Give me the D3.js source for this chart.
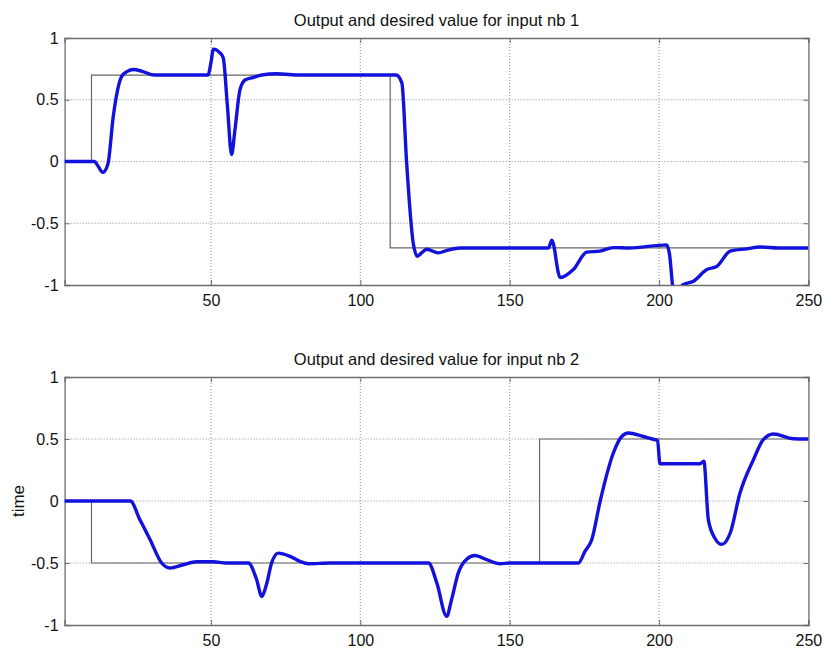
<!DOCTYPE html>
<html>
<head>
<meta charset="utf-8">
<script src="https://cdn.jsdelivr.net/npm/d3@7"></script>
<style>
  body { margin: 0; background: #fff; }
  text { font-family: "Liberation Sans", Arial, sans-serif; fill: #111; }
</style>
</head>
<body>
<div id="chart"></div>
<script>
var svgWidth = 825;
var svgHeight = 648;

// x ticks shared by both panels
var xTicks = [50, 100, 150, 200, 250];
var yTicks = [-1, -0.5, 0, 0.5, 1];

// desired value, input 1 (step signal)
var ref1Time = [1, 10, 110, 250];
var ref1Value = [0, 0.7, -0.7, -0.7];

// network output, input 1
var out1Time = [1, 11, 12, 13.8, 15.5, 17.3, 20.1, 22, 24, 27, 31, 40, 49, 50, 50.8, 53, 54.1, 55.5, 56.9, 58, 59.7, 61.4, 64, 67, 72, 80, 112, 113.9, 115.5, 117.7, 119.1, 120.5, 122.2, 126.1, 129, 133.4, 163, 164.1, 166.9, 171.3, 175.8, 180.2, 184.7, 190, 202.6, 203.5, 204.8, 206, 207.9, 211.5, 216, 219.3, 223.8, 229.3, 233.8, 240, 250];
var out1Value = [0, 0, -0.03, -0.087, -0.02, 0.367, 0.69, 0.73, 0.745, 0.73, 0.70, 0.70, 0.70, 0.80, 0.91, 0.88, 0.84, 0.45, 0.057, 0.25, 0.58, 0.66, 0.68, 0.70, 0.71, 0.70, 0.70, 0.637, -0.01, -0.66, -0.767, -0.74, -0.71, -0.74, -0.72, -0.70, -0.70, -0.637, -0.94, -0.875, -0.734, -0.726, -0.697, -0.70, -0.675, -0.75, -1.05, -1.1, -1.0, -0.97, -0.875, -0.85, -0.726, -0.707, -0.692, -0.70, -0.70];

// desired value, input 2
var ref2Time = [1, 10, 160, 250];
var ref2Value = [0, -0.5, 0.5, 0.5];

// network output, input 2
var out2Time = [1, 23, 26.2, 29.6, 33.5, 36.3, 40.7, 45.2, 50.8, 55, 62.5, 65.3, 67, 68.5, 70.3, 72.5, 76.5, 79.8, 82.6, 90, 122.8, 125.6, 128.9, 130.5, 132.8, 135.6, 138.4, 142.3, 146.8, 150, 173, 175.2, 177.5, 180.3, 184.7, 187.5, 189.7, 194.7, 198.7, 199.5, 200.3, 213.7, 215, 216.5, 218.7, 221, 223.8, 227.1, 231.6, 234.9, 238.3, 245, 250];
var out2Value = [0, 0, -0.15, -0.31, -0.5, -0.54, -0.514, -0.49, -0.49, -0.5, -0.5, -0.635, -0.77, -0.68, -0.5, -0.42, -0.447, -0.487, -0.506, -0.5, -0.5, -0.66, -0.93, -0.8, -0.58, -0.47, -0.44, -0.473, -0.506, -0.5, -0.5, -0.406, -0.31, 0, 0.387, 0.52, 0.548, 0.52, 0.494, 0.49, 0.30, 0.30, 0.32, -0.15, -0.3, -0.35, -0.26, 0.064, 0.333, 0.494, 0.54, 0.502, 0.50];

var margin = { left: 64.6, right: 16.6 };
var width = svgWidth - margin.left - margin.right;

var svg = d3.select("#chart")
  .append("svg")
  .attr("width", svgWidth)
  .attr("height", svgHeight);

var x = d3.scaleLinear().domain([1, 250]).range([0, width]);

function zip(ts, vs) {
  return ts.map(function(t, i) { return [t, vs[i]]; });
}

function drawPanel(id, top, height, refT, refV, outT, outV, title, ylabel) {
  var y = d3.scaleLinear().domain([-1, 1]).range([height, 0]);

  var g = svg.append("g")
    .attr("transform", `translate(${margin.left}, ${top})`);

  // clip so the output does not leave the box
  svg.append("clipPath").attr("id", id)
    .append("rect").attr("width", width).attr("height", height);

  // dotted grid
  g.append("g").selectAll("line")
    .data([50, 100, 150, 200])
    .enter().append("line")
    .attr("x1", d => x(d)).attr("x2", d => x(d))
    .attr("y1", 0).attr("y2", height)
    .attr("stroke", "#8c8c8c")
    .attr("stroke-dasharray", "1,2");

  g.append("g").selectAll("line")
    .data([-0.5, 0, 0.5])
    .enter().append("line")
    .attr("x1", 0).attr("x2", width)
    .attr("y1", d => y(d)).attr("y2", d => y(d))
    .attr("stroke", "#8c8c8c")
    .attr("stroke-dasharray", "1,2");

  // axes, ticks pointing inwards like matlab
  var bottom = g.append("g")
    .attr("transform", `translate(0, ${height})`)
    .call(d3.axisBottom(x).tickValues(xTicks).tickSize(-5).tickPadding(10));
  var topAx = g.append("g")
    .call(d3.axisTop(x).tickValues(xTicks).tickSize(-5).tickFormat(""));
  var left = g.append("g")
    .call(d3.axisLeft(y).tickValues(yTicks).tickSize(-5).tickPadding(6)
      .tickFormat(d => String(d)));
  var right = g.append("g")
    .attr("transform", `translate(${width}, 0)`)
    .call(d3.axisRight(y).tickValues(yTicks).tickSize(-5).tickFormat(""));

  [bottom, topAx, left, right].forEach(function(a) {
    a.selectAll("path").attr("stroke", "#6e6e6e").attr("stroke-width", 1.3);
    a.selectAll("line").attr("stroke", "#6e6e6e");
    a.selectAll("text").attr("font-size", "16px").attr("fill", "#111");
  });

  var plot = g.append("g").attr("clip-path", `url(#${id})`);

  // desired value
  plot.append("path")
    .datum(zip(refT, refV))
    .attr("fill", "none")
    .attr("stroke", "#666")
    .attr("stroke-width", 1.2)
    .attr("d", d3.line().curve(d3.curveStepAfter)
      .x(d => x(d[0])).y(d => y(d[1])));

  // output
  plot.append("path")
    .datum(zip(outT, outV))
    .attr("fill", "none")
    .attr("stroke", "#1212dc")
    .attr("stroke-width", 3.4)
    .attr("stroke-linejoin", "round")
    .attr("d", d3.line().curve(d3.curveMonotoneX)
      .x(d => x(d[0])).y(d => y(d[1])));

  g.append("text")
    .attr("x", width / 2)
    .attr("y", -12)
    .attr("text-anchor", "middle")
    .attr("font-size", "16.5px")
    .text(title);

  if (ylabel) {
    g.append("text")
      .attr("transform", `translate(${18 - margin.left}, ${height / 2}) rotate(-90)`)
      .attr("text-anchor", "middle")
      .attr("dy", "0.35em")
      .attr("font-size", "17px")
      .text(ylabel);
  }
}

drawPanel("clip1", 38, 247, ref1Time, ref1Value, out1Time, out1Value,
  "Output and desired value for input nb 1", null);
drawPanel("clip2", 377, 248, ref2Time, ref2Value, out2Time, out2Value,
  "Output and desired value for input nb 2", "time");
</script>
</body>
</html>
